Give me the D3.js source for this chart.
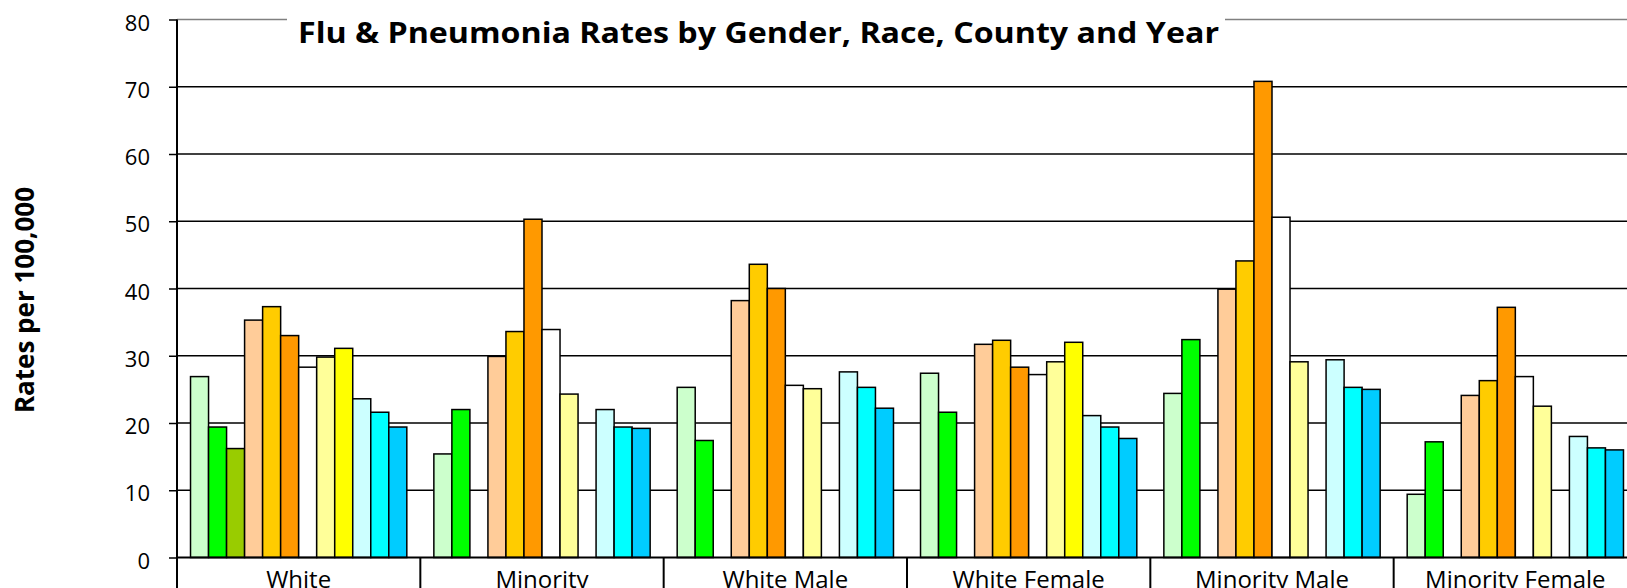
<!DOCTYPE html>
<meta charset="utf-8">
<head>
    <style>
        body { margin: 0; background: #fff; }
        svg text { font-family: "Open Sans", "Noto Sans", sans-serif; fill: #000; }
    </style>
</head>
<body>
    <div id="chart"></div>

    <script src="https://d3js.org/d3.v7.min.js"></script>
    <script>
        // chart data
        let groups = ['White', 'Minority', 'White Male', 'White Female', 'Minority Male', 'Minority Female'];
        let seriesNames = ['County 1 Y1', 'County 1 Y2', 'County 1 Y3',
                           'County 2 Y1', 'County 2 Y2', 'County 2 Y3',
                           'County 3 Y1', 'County 3 Y2', 'County 3 Y3',
                           'County 4 Y1', 'County 4 Y2', 'County 4 Y3'];
        let seriesColors = ['#CCFFCC', '#00FF00', '#99CC00',
                            '#FFCC99', '#FFCC00', '#FF9900',
                            '#FFFFFF', '#FFFF99', '#FFFF00',
                            '#CCFFFF', '#00FFFF', '#00CCFF'];
        // one array per series, one value per group (null = no bar)
        let s1  = [26.9, 15.4, 25.3, 27.4, 24.4, 9.4];
        let s2  = [19.4, 22.0, 17.4, 21.6, 32.4, 17.2];
        let s3  = [16.2, null, null, null, null, null];
        let s4  = [35.3, 29.9, 38.2, 31.7, 39.9, 24.1];
        let s5  = [37.3, 33.6, 43.6, 32.3, 44.1, 26.3];
        let s6  = [33.0, 50.3, 40.0, 28.3, 70.8, 37.2];
        let s7  = [28.3, 33.9, 25.6, 27.2, 50.6, 26.9];
        let s8  = [29.8, 24.3, 25.1, 29.1, 29.1, 22.5];
        let s9  = [31.1, null, null, 32.0, null, null];
        let s10 = [23.6, 22.0, 27.6, 21.1, 29.4, 18.0];
        let s11 = [21.6, 19.4, 25.3, 19.4, 25.3, 16.3];
        let s12 = [19.4, 19.2, 22.2, 17.7, 25.0, 16.0];
        let seriesValues = [s1, s2, s3, s4, s5, s6, s7, s8, s9, s10, s11, s12];
        let yTicks = [0, 10, 20, 30, 40, 50, 60, 70, 80];

        let chartTitle = 'Flu & Pneumonia Rates by Gender, Race, County and Year';
        let yTitle = 'Rates per 100,000';

        // chart default setting
        let svgWidth = 1627;
        let svgHeight = 588;
        let plot = {left: 177, right: 1637, top: 19.5, bottom: 557.5};

        let svg = d3.select('#chart')
                    .append('svg')
                    .attr('width', svgWidth)
                    .attr('height', svgHeight);

        // scales
        let x = d3.scaleBand()
            .domain(groups)
            .range([plot.left, plot.right])
            .padding(0);
        let xInner = d3.scaleBand()
            .domain(d3.range(seriesNames.length))
            .range([0, x.bandwidth()])
            .paddingInner(0)
            .paddingOuter(0.75);
        let y = d3.scaleLinear()
            .domain([0, 80])
            .range([plot.bottom, plot.top]);

        // gridlines
        svg.append('g')
            .selectAll('line')
            .data(yTicks.filter(d => d > 0 && d < 80))
            .enter()
            .append('line')
            .attr('x1', plot.left)
            .attr('x2', plot.right)
            .attr('y1', d => y(d))
            .attr('y2', d => y(d))
            .attr('stroke', '#000')
            .attr('stroke-width', 1.4);

        // plot border top (grey)
        svg.append('line')
            .attr('x1', plot.left).attr('x2', plot.right)
            .attr('y1', y(80)).attr('y2', y(80))
            .attr('stroke', '#808080')
            .attr('stroke-width', 1.5);

        // bars
        let barData = [];
        seriesValues.forEach((vals, si) => {
            vals.forEach((v, gi) => {
                if (v !== null) barData.push({group: groups[gi], series: si, value: v});
            });
        });

        svg.append('g')
            .selectAll('rect')
            .data(barData)
            .enter()
            .append('rect')
            .attr('x', d => x(d.group) + xInner(d.series))
            .attr('y', d => y(d.value))
            .attr('width', xInner.bandwidth())
            .attr('height', d => y(0) - y(d.value))
            .attr('fill', d => seriesColors[d.series])
            .attr('stroke', '#000')
            .attr('stroke-width', 1.5);

        // y axis
        let yAxis = svg.append('g')
            .attr('transform', `translate(${plot.left}, 0)`)
            .call(d3.axisLeft(y).tickValues(yTicks).tickSize(8).tickPadding(19).tickSizeOuter(0));
        yAxis.select('.domain').remove();
        yAxis.selectAll('line').attr('stroke', '#000').attr('stroke-width', 1.5);
        yAxis.selectAll('text')
            .attr('font-size', 22)
            .attr('dy', '0.48em')
            .style('font-family', '"Open Sans", sans-serif');
        svg.append('line')
            .attr('x1', plot.left).attr('x2', plot.left)
            .attr('y1', plot.top).attr('y2', svgHeight)
            .attr('stroke', '#000').attr('stroke-width', 2);

        // x axis (baseline + group separators)
        svg.append('line')
            .attr('x1', plot.left).attr('x2', plot.right)
            .attr('y1', y(0)).attr('y2', y(0))
            .attr('stroke', '#000').attr('stroke-width', 2);
        svg.append('g')
            .selectAll('line')
            .data(groups.slice(1).concat(['_end']))
            .enter()
            .append('line')
            .attr('x1', d => d === '_end' ? plot.right : x(d))
            .attr('x2', d => d === '_end' ? plot.right : x(d))
            .attr('y1', y(0))
            .attr('y2', svgHeight)
            .attr('stroke', '#000').attr('stroke-width', 2);
        svg.append('g')
            .selectAll('text')
            .data(groups)
            .enter()
            .append('text')
            .attr('x', d => x(d) + x.bandwidth() / 2)
            .attr('y', 588)
            .attr('text-anchor', 'middle')
            .attr('font-size', 24)
            .text(d => d);

        // title with white box over the border
        svg.append('rect')
            .attr('x', 287).attr('y', 6)
            .attr('width', 1225 - 287).attr('height', 48)
            .attr('fill', '#fff');
        svg.append('text')
            .attr('x', 298)
            .attr('y', 43)
            .attr('font-size', 28)
            .attr('font-weight', 'bold')
            .attr('textLength', 921)
            .attr('lengthAdjust', 'spacingAndGlyphs')
            .text(chartTitle);

        // y axis title
        svg.append('text')
            .attr('transform', 'translate(34, 300) rotate(-90)')
            .attr('text-anchor', 'middle')
            .attr('font-size', 26)
            .attr('font-weight', 'bold')
            .text(yTitle);
    </script>
</body>
